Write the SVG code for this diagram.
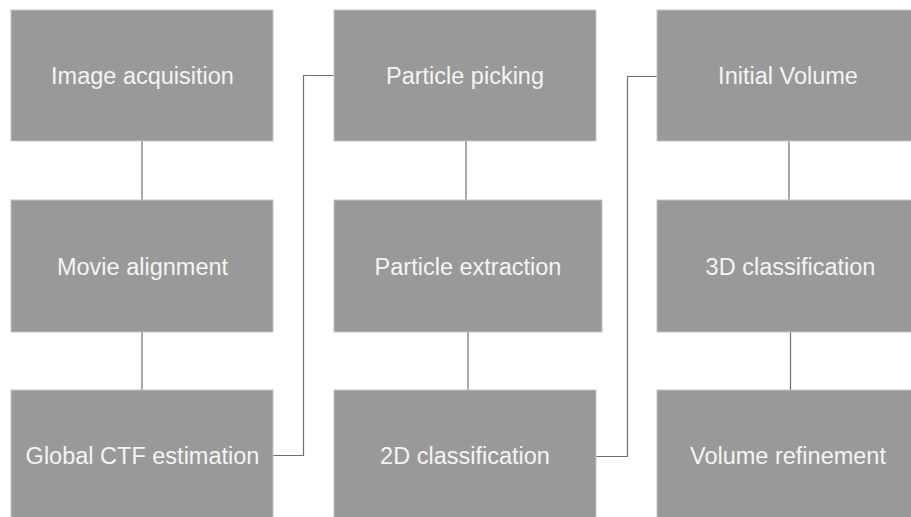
<svg xmlns="http://www.w3.org/2000/svg" width="911" height="517" viewBox="0 0 911 517">
<style>
.box{fill:#999999;stroke:#c4c4c4;stroke-width:1}
.lbl{font-family:"Liberation Sans",Arial,sans-serif;font-size:23.5px;fill:#f4f4f4;text-anchor:middle}
.con{fill:none;stroke:#6e6e6e;stroke-width:1.2}
</style>
<rect width="911" height="517" fill="#ffffff"/>
<g id="connectors">
<line class="con" x1="142" y1="141" x2="142" y2="200"/>
<line class="con" x1="142" y1="332" x2="142" y2="390"/>
<line class="con" x1="466" y1="141" x2="466" y2="200"/>
<line class="con" x1="468" y1="332" x2="468" y2="390"/>
<line class="con" x1="789" y1="141" x2="789" y2="200"/>
<line class="con" x1="790.5" y1="332" x2="790.5" y2="390"/>
<polyline class="con" points="273,455.5 303.5,455.5 303.5,75.5 334,75.5"/>
<polyline class="con" points="596,456.5 627.5,456.5 627.5,76.5 657,76.5"/>
</g>
<g id="n1"><rect class="box" x="11" y="10" width="262" height="131"/><text class="lbl" x="142.5" y="84">Image acquisition</text></g>
<g id="n2"><rect class="box" x="11" y="200" width="262" height="132"/><text class="lbl" x="142.5" y="275">Movie alignment</text></g>
<g id="n3"><rect class="box" x="11" y="390" width="262" height="132"/><text class="lbl" x="142.5" y="464">Global CTF estimation</text></g>
<g id="n4"><rect class="box" x="334" y="10" width="262" height="131"/><text class="lbl" x="465" y="84">Particle picking</text></g>
<g id="n5"><rect class="box" x="334" y="200" width="268" height="132"/><text class="lbl" x="468" y="275">Particle extraction</text></g>
<g id="n6"><rect class="box" x="334" y="390" width="262" height="132"/><text class="lbl" x="465" y="464">2D classification</text></g>
<g id="n7"><rect class="box" x="657" y="10" width="264" height="131"/><text class="lbl" x="788" y="84">Initial Volume</text></g>
<g id="n8"><rect class="box" x="657" y="200" width="268" height="132"/><text class="lbl" x="790.5" y="275">3D classification</text></g>
<g id="n9"><rect class="box" x="657" y="390" width="264" height="132"/><text class="lbl" x="788" y="464">Volume refinement</text></g>
</svg>
